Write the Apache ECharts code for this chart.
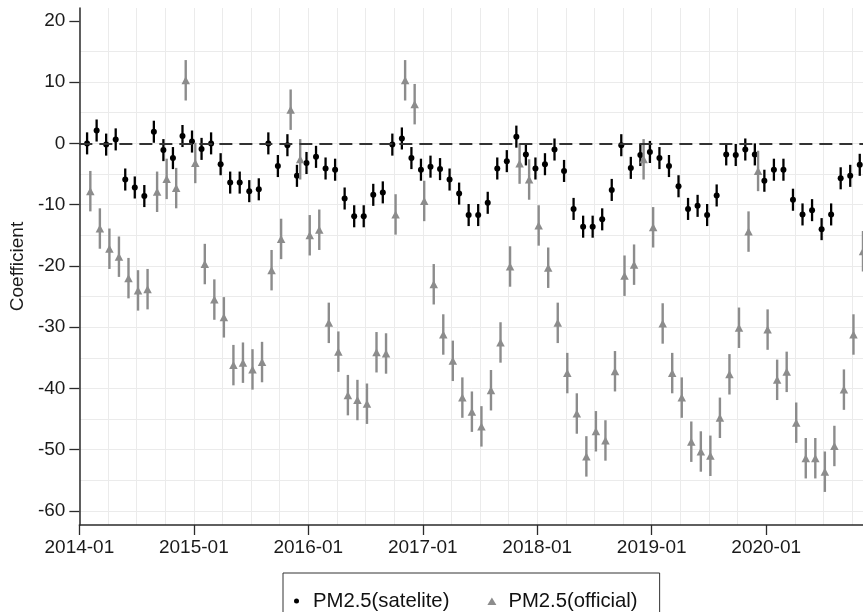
<!DOCTYPE html>
<html><head><meta charset="utf-8">
<script src="https://cdn.jsdelivr.net/npm/echarts@6/dist/echarts.min.js"></script>
<style>html,body{margin:0;padding:0;background:#fff}#c{width:863px;height:612px}</style>
</head><body><div id="c"></div>
<script>
// ---- data (monthly coefficients, first point = 2014-02) ----
const firstMonth = '2014-02';
const satelite = [
  0, 2.1, -0.2, 0.65, -5.9, -7.2, -8.6, 1.9, -1.1, -2.4,
  1.2, 0.3, -0.9, 0, -3.4, -6.4, -6.4, -7.8, -7.5, 0,
  -3.7, -0.3, -5.3, -3.2, -2.2, -4.1, -4.3, -9.0, -11.9, -11.9,
  -8.4, -8.0, -0.2, 0.8, -2.4, -4.3, -3.8, -4.2, -5.9, -8.2,
  -11.7, -11.7, -9.7, -4.1, -2.9, 1.1, -1.8, -4.1, -3.4, -1.0,
  -4.5, -10.7, -13.6, -13.6, -12.4, -7.6, -0.3, -4.0, -1.9, -1.4,
  -2.4, -3.7, -7.0, -10.7, -10.2, -11.7, -8.5, -1.8, -1.9, -1.0,
  -1.8, -6.1, -4.3, -4.3, -9.2, -11.6, -10.9, -14.0, -11.6, -5.7,
  -5.3, -3.5
];
const official = [
  -7.8, -13.9, -17.2, -18.5, -22.0, -24.0, -23.8, -7.9, -5.8, -7.3,
  10.3, -3.2, -19.7, -25.5, -28.4, -36.2, -35.8, -36.9, -35.7, -20.7,
  -15.6, 5.5, -2.6, -15.0, -14.1, -29.3, -34.0, -41.1, -41.9, -42.5,
  -34.1, -34.3, -11.6, 10.3, 6.4, -9.4, -23.0, -31.2, -35.5, -41.5,
  -43.8, -46.2, -40.3, -32.5, -20.1, -3.3, -5.9, -13.4, -20.3, -29.3,
  -37.5, -44.1, -51.1, -47.0, -48.5, -37.2, -21.6, -19.8, -2.6, -13.7,
  -29.4, -37.5, -41.5, -48.7, -50.3, -51.0, -44.8, -37.7, -30.1, -14.4,
  -4.5, -30.4, -38.6, -37.3, -45.6, -51.4, -51.4, -53.6, -49.4, -40.2,
  -31.2, -17.6
];
const sateliteHalfCI = 1.8;
const officialHalfCI = 3.3;
const yTickValues = [-60, -50, -40, -30, -20, -10, 0, 10, 20];
const xTickLabels = ['2014-01','2015-01','2016-01','2017-01','2018-01','2019-01','2020-01'];
const seriesNames = ['PM2.5(satelite)', 'PM2.5(official)'];

// ---- helpers ----
function monthIndex(s) { const [y, m] = s.split('-').map(Number); return (y - 2014) * 12 + (m - 1); }
function monthLabel(i) { const y = 2014 + Math.floor(i / 12), m = i % 12 + 1; return y + '-' + (m < 10 ? '0' + m : m); }
const base = monthIndex(firstMonth);
const satOffset = -0.19, offOffset = 0.15;
const satPts = satelite.map((v, i) => [base + i + satOffset, v]);
const offPts = official.map((v, i) => [base + i + offOffset, v]);
const satCI = satelite.map((v, i) => [base + i + satOffset, v - sateliteHalfCI, v + sateliteHalfCI]);
const offCI = official.map((v, i) => [base + i + offOffset, v - officialHalfCI, v + officialHalfCI]);
const xTickValues = xTickLabels.map(monthIndex);

const FONT = "'Liberation Sans', Arial, Helvetica, sans-serif";
const GRAY = '#8c8c8c';
const GRID = '#ebebeb';
const AXIS = '#2b2b2b';

function errBar(color, width) {
  return function (params, api) {
    const a = api.coord([api.value(0), api.value(1)]);
    const b = api.coord([api.value(0), api.value(2)]);
    return { type: 'line', shape: { x1: a[0], y1: a[1], x2: b[0], y2: b[1] },
      style: { stroke: color, lineWidth: width } };
  };
}

const chart = echarts.init(document.getElementById('c'), null, { renderer: 'canvas' });
chart.setOption({
  animation: false,
  backgroundColor: '#fff',
  textStyle: { fontFamily: FONT },
  grid: { left: 78, right: 0, top: 8, bottom: 87, containLabel: false },
  legend: {
    left: 283, top: 573,
    padding: [18, 22, 18, 9],
    borderColor: '#333', borderWidth: 1, borderRadius: 0,
    itemWidth: 23, itemHeight: 9, itemGap: 38,
    selectedMode: false,
    textStyle: { fontFamily: FONT, fontSize: 20.3, color: '#111' },
    data: [
      { name: seriesNames[0], icon: 'path://M0,0M9,9M2,4.5A2.5,2.5,0,1,1,7,4.5A2.5,2.5,0,1,1,2,4.5Z', itemStyle: { color: '#000' } },
      { name: seriesNames[1], icon: 'path://M0,0M9,9M4.5,1L9,8.5L0,8.5Z', itemStyle: { color: GRAY } }
    ]
  },
  xAxis: {
    type: 'value', min: 0, max: 82.15, interval: 12,
    axisLine: { show: true, onZero: false, lineStyle: { color: AXIS, width: 1.5 } },
    axisTick: { show: true, length: 10, customValues: xTickValues, lineStyle: { color: AXIS, width: 1.3 } },
    axisLabel: { customValues: xTickValues, margin: 13, fontSize: 19, color: '#1a1a1a', fontFamily: FONT,
      formatter: v => monthLabel(Math.round(v)) },
    splitLine: { show: true, showMaxLine: false, lineStyle: { color: GRID, width: 1 } },
    minorTick: { show: false, splitNumber: 4 },
    minorSplitLine: { show: true, lineStyle: { color: GRID, width: 1 } }
  },
  yAxis: {
    type: 'value', min: -62.3, max: 22.1, minInterval: 10, maxInterval: 10,
    name: 'Coefficient', nameLocation: 'middle', nameGap: 50,
    nameTextStyle: { fontSize: 19, color: '#1a1a1a', fontFamily: FONT },
    axisLine: { show: true, onZero: false, lineStyle: { color: AXIS, width: 1.5 } },
    axisTick: { show: true, length: 10, customValues: yTickValues, lineStyle: { color: AXIS, width: 1.3 } },
    axisLabel: { customValues: yTickValues, margin: 14, fontSize: 19, color: '#1a1a1a', fontFamily: FONT },
    splitLine: { show: true, showMaxLine: false, lineStyle: { color: GRID, width: 1 } },
    minorTick: { show: false, splitNumber: 2 },
    minorSplitLine: { show: true, lineStyle: { color: GRID, width: 1 } }
  },
  series: [
    { name: 'zero', type: 'line', data: [], z: 1, silent: true,
      markLine: { silent: true, symbol: ['none', 'none'], label: { show: false },
        lineStyle: { color: '#333', width: 1.8, type: [13, 7] },
        data: [{ yAxis: 0 }] } },
    { name: 'satelite CI', type: 'custom', z: 2, data: satCI, renderItem: errBar('#000', 2.3),
      encode: { x: 0, y: [1, 2] }, silent: true },
    { name: seriesNames[0], type: 'scatter', z: 3, data: satPts, symbol: 'circle', symbolSize: 6,
      itemStyle: { color: '#000', opacity: 1 }, silent: true },
    { name: 'official CI', type: 'custom', z: 4, data: offCI, renderItem: errBar(GRAY, 2.4),
      encode: { x: 0, y: [1, 2] }, silent: true },
    { name: seriesNames[1], type: 'scatter', z: 5, data: offPts, symbol: 'triangle', symbolSize: [8.5, 8],
      itemStyle: { color: GRAY, opacity: 1 }, silent: true }
  ]
});
</script>
</body></html>
